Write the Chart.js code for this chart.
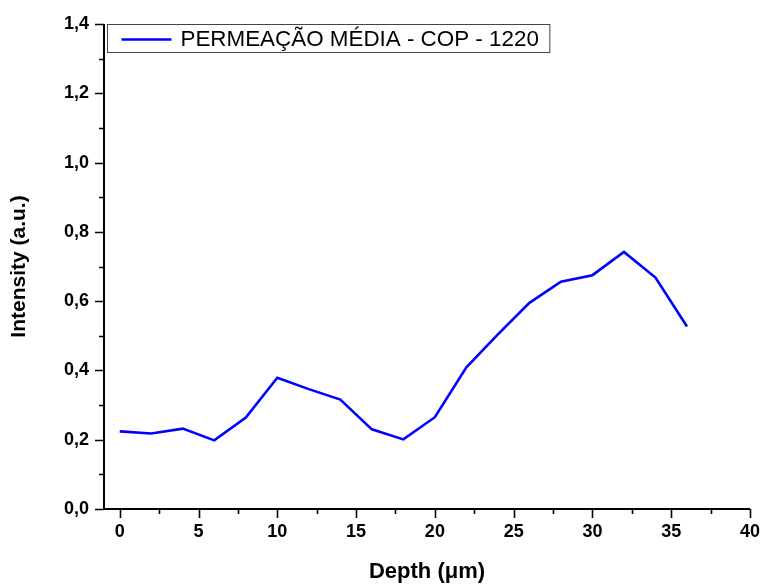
<!DOCTYPE html>
<html>
<head>
<meta charset="utf-8">
<script src="https://cdn.jsdelivr.net/npm/chart.js@4/dist/chart.umd.min.js"></script>
<style>
  html, body { margin: 0; padding: 0; background: #fff; }
  #wrap { width: 761px; height: 586px; }
</style>
</head>
<body>
<div id="wrap"><canvas id="c" width="761" height="586"></canvas></div>
<script>
// Depth profile (µm) and mean permeation intensity
const depth = [0, 2, 4, 6, 8, 10, 12, 14, 16, 18, 20, 22, 24, 26, 28, 30, 32, 34, 36];
const intensity = [0.224, 0.218, 0.232, 0.198, 0.264, 0.379, 0.346, 0.316, 0.230, 0.201,
                   0.265, 0.409, 0.504, 0.595, 0.656, 0.675, 0.742, 0.668, 0.527];

const seriesLabel = 'PERMEAÇÃO MÉDIA - COP - 1220';
const xTitle = 'Depth (\u03bcm)';
const yTitle = 'Intensity (a.u.)';
const xMajorTicks = [0, 5, 10, 15, 20, 25, 30, 35, 40];
const yMajorTicks = [0, 0.2, 0.4, 0.6, 0.8, 1.0, 1.2, 1.4];

const FONT = "'Liberation Sans', Arial, Helvetica, sans-serif";

const midpoints = arr => arr.slice(1).map((v, i) => (v + arr[i]) / 2);

// Axis lines plus outward major/minor tick marks
const axisFrame = {
  id: 'axisFrame',
  afterDraw(chart) {
    const { ctx, chartArea: a, scales: { x, y } } = chart;
    ctx.save();
    ctx.strokeStyle = '#000';
    ctx.lineCap = 'butt';
    ctx.lineWidth = 2;
    ctx.beginPath();
    ctx.moveTo(a.left, a.top);
    ctx.lineTo(a.left, a.bottom);
    ctx.moveTo(a.left - 1, a.bottom);
    ctx.lineTo(a.right, a.bottom);
    ctx.stroke();

    ctx.lineWidth = 1.6;
    ctx.beginPath();
    xMajorTicks.forEach(v => {
      const px = Math.round(x.getPixelForValue(v)) + 0.5;
      ctx.moveTo(px, a.bottom); ctx.lineTo(px, a.bottom + 9);
    });
    midpoints(xMajorTicks).forEach(v => {
      const px = Math.round(x.getPixelForValue(v)) + 0.5;
      ctx.moveTo(px, a.bottom); ctx.lineTo(px, a.bottom + 5);
    });
    yMajorTicks.forEach(v => {
      const py = Math.round(y.getPixelForValue(v)) + 0.5;
      ctx.moveTo(a.left, py); ctx.lineTo(a.left - 9, py);
    });
    midpoints(yMajorTicks).forEach(v => {
      const py = Math.round(y.getPixelForValue(v)) + 0.5;
      ctx.moveTo(a.left, py); ctx.lineTo(a.left - 5, py);
    });
    ctx.stroke();
    ctx.restore();
  }
};

// Boxed legend in the top-left corner of the plot
const boxLegend = {
  id: 'boxLegend',
  afterDraw(chart) {
    const { ctx, chartArea: a } = chart;
    const ds = chart.data.datasets[0];
    ctx.save();
    ctx.font = "22.4px " + FONT;
    const textW = ctx.measureText(ds.label).width;
    const bx = a.left + 3.5, by = a.top + 0.5;
    const bw = 73 + textW + 11, bh = 28;
    ctx.fillStyle = '#fff';
    ctx.fillRect(bx, by, bw, bh);
    ctx.strokeStyle = '#444';
    ctx.lineWidth = 1;
    ctx.strokeRect(bx, by, bw, bh);
    ctx.strokeStyle = ds.borderColor;
    ctx.lineWidth = ds.borderWidth;
    ctx.beginPath();
    ctx.moveTo(bx + 14, by + 15);
    ctx.lineTo(bx + 64, by + 15);
    ctx.stroke();
    ctx.fillStyle = '#000';
    ctx.textBaseline = 'middle';
    ctx.textAlign = 'left';
    ctx.fillText(ds.label, bx + 73, by + 15);
    ctx.restore();
  }
};

new Chart(document.getElementById('c'), {
  type: 'line',
  data: {
    datasets: [{
      label: seriesLabel,
      data: depth.map((d, i) => ({ x: d, y: intensity[i] })),
      borderColor: '#0000ff',
      borderWidth: 2.6,
      pointRadius: 0,
      tension: 0,
      fill: false
    }]
  },
  options: {
    responsive: false,
    animation: false,
    devicePixelRatio: 1,
    layout: { padding: { top: 24, right: 11, left: 0, bottom: 0 } },
    plugins: { legend: { display: false }, tooltip: { enabled: false } },
    scales: {
      x: {
        type: 'linear',
        min: -1,
        max: 40,
        grid: { display: false, drawTicks: false },
        border: { display: false },
        afterBuildTicks: s => { s.ticks = xMajorTicks.map(v => ({ value: v })); },
        afterFit: s => { s.height = 77; s.paddingLeft = 0; s.paddingRight = 0; },
        ticks: {
          padding: 12,
          color: '#000',
          maxRotation: 0,
          font: { family: FONT, size: 18, weight: 'bold' },
          callback: v => String(v)
        },
        title: {
          display: true,
          text: xTitle,
          color: '#000',
          padding: { top: 0, bottom: 1 },
          font: { family: FONT, size: 22, weight: 'bold' }
        }
      },
      y: {
        type: 'linear',
        min: 0,
        max: 1.4,
        grid: { display: false, drawTicks: false },
        border: { display: false },
        afterBuildTicks: s => { s.ticks = yMajorTicks.map(v => ({ value: v })); },
        afterFit: s => { s.width = 104; s.paddingTop = 0; s.paddingBottom = 0; },
        ticks: {
          padding: 15,
          color: '#000',
          font: { family: FONT, size: 18, weight: 'bold' },
          callback: v => v.toFixed(1).replace('.', ',')
        },
        title: {
          display: true,
          text: yTitle,
          color: '#000',
          padding: { top: 7, bottom: 0 },
          font: { family: FONT, size: 21, weight: 'bold' }
        }
      }
    }
  },
  plugins: [axisFrame, boxLegend]
});
</script>
</body>
</html>
